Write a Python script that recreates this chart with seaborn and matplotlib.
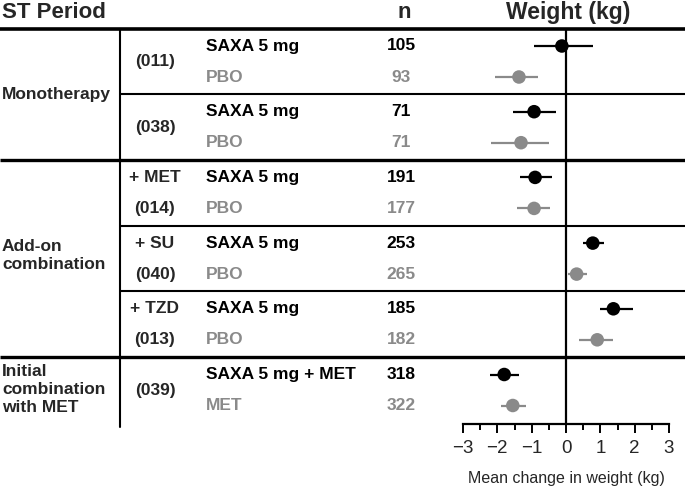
import numpy as np
import pandas as pd
import matplotlib
matplotlib.use("Agg")
import matplotlib.pyplot as plt
import seaborn as sns

# data
sections = ["Monotherapy", "Add-on\ncombination", "Initial\ncombination\nwith MET"]
studies = ["(011)", "(038)", "+ MET\n(014)", "+ SU\n(040)", "+ TZD\n(013)", "(039)"]
study_section = [0, 0, 1, 1, 1, 2]
arm_active = ["SAXA 5 mg", "SAXA 5 mg", "SAXA 5 mg", "SAXA 5 mg", "SAXA 5 mg", "SAXA 5 mg + MET"]
arm_control = ["PBO", "PBO", "PBO", "PBO", "PBO", "MET"]
n_active = [105, 71, 191, 253, 185, 318]
n_control = [93, 71, 177, 265, 182, 322]
mean_active = [-0.12, -0.93, -0.9, 0.78, 1.38, -1.8]
lo_active = [-0.92, -1.53, -1.34, 0.5, 0.99, -2.21]
hi_active = [0.8, -0.29, -0.4, 1.1, 1.94, -1.38]
mean_control = [-1.37, -1.31, -0.93, 0.31, 0.91, -1.55]
lo_control = [-2.06, -2.17, -1.44, 0.05, 0.39, -1.89]
hi_control = [-0.81, -0.5, -0.48, 0.6, 1.36, -1.17]

BLACK = "#000000"
GREY = "#8a8a8a"
W, H = 685, 488
FS = 12.5
HFS = 16

sns.set_style("white")
plt.rcParams["font.family"] = ["Liberation Sans", "DejaVu Sans"]

# row layout (pixel units, top = 0)
top = 29
row_gap = 31
study_gap = 65.7
ys_active, ys_control, study_mid = [], [], []
for i in range(len(studies)):
    y = top + 17 + i * study_gap
    ys_active.append(y)
    ys_control.append(y + row_gap)
    study_mid.append(y + row_gap / 2)

rows = []
for i in range(len(studies)):
    rows.append(dict(y=ys_active[i], m=mean_active[i], lo=lo_active[i], hi=hi_active[i], arm="active"))
    rows.append(dict(y=ys_control[i], m=mean_control[i], lo=lo_control[i], hi=hi_control[i], arm="control"))
df = pd.DataFrame(rows)

fig = plt.figure(figsize=(W / 100, H / 100), dpi=100)
bg = fig.add_axes([0, 0, 1, 1])
bg.set_xlim(0, W)
bg.set_ylim(H, 0)
bg.axis("off")

axis_y = 424
ax_l, ax_r = 463, 669
ax = fig.add_axes([ax_l / W, (H - axis_y) / H, (ax_r - ax_l) / W, (axis_y - top) / H])
ax.set_facecolor("none")

# header
bg.text(2, 13, "ST Period", fontsize=HFS, fontweight="bold", va="center")
bg.text(404, 13, "n", fontsize=HFS, fontweight="bold", va="center", ha="center")
bg.text(568, 13, "Weight (kg)", fontsize=HFS + 0.5, fontweight="bold", va="center", ha="center")
bg.plot([0, W], [top, top], color="black", lw=2.6, solid_capstyle="butt")

# section / study separators
for i in range(1, len(studies)):
    ysep = (ys_control[i - 1] + ys_active[i]) / 2
    if study_section[i] != study_section[i - 1]:
        bg.plot([0, W], [ysep, ysep], color="black", lw=2.4, solid_capstyle="butt")
    else:
        bg.plot([120, W], [ysep, ysep], color="black", lw=1.5, solid_capstyle="butt")
bg.plot([120, 120], [top, axis_y + 3], color="black", lw=1.5)

# section labels
for s, lab in enumerate(sections):
    idx = [i for i in range(len(studies)) if study_section[i] == s]
    ymid = (study_mid[idx[0]] + study_mid[idx[-1]]) / 2
    if s == 1:
        ymid -= 3
    bg.text(2, ymid, lab, fontsize=FS, fontweight="bold", va="center", ha="left", linespacing=1.25)

for i in range(len(studies)):
    parts = studies[i].split("\n")
    if len(parts) == 2:
        bg.text(155, ys_active[i], parts[0], fontsize=FS, fontweight="bold", va="center", ha="center")
        bg.text(155, ys_control[i], parts[1], fontsize=FS, fontweight="bold", va="center", ha="center")
    else:
        bg.text(155, study_mid[i], parts[0], fontsize=FS, fontweight="bold", va="center", ha="center")
    bg.text(206, ys_active[i], arm_active[i], fontsize=FS, fontweight="bold", va="center", color=BLACK)
    bg.text(206, ys_control[i], arm_control[i], fontsize=FS, fontweight="bold", va="center", color=GREY)
    bg.text(401, ys_active[i], str(n_active[i]), fontsize=FS, fontweight="bold", va="center", ha="center", color=BLACK)
    bg.text(401, ys_control[i], str(n_control[i]), fontsize=FS, fontweight="bold", va="center", ha="center", color=GREY)

# forest plot
palette = {"active": BLACK, "control": GREY}
for arm, d in df.groupby("arm"):
    ax.hlines(d["y"], d["lo"], d["hi"], color=palette[arm], lw=1.6, zorder=2)
sns.scatterplot(data=df, x="m", y="y", hue="arm", palette=palette, s=95,
                edgecolor="none", legend=False, ax=ax, zorder=3)
ax.axvline(0, color="black", lw=1.6, zorder=1)
ax.set_xlim(-3, 3)
ax.set_ylim(axis_y, top)
ax.set_yticks([])
ax.set_xticks(np.arange(-3, 4, 1))
ax.set_xticks(np.arange(-2.5, 3, 1), minor=True)
ax.set_xticklabels(["\u22123", "\u22122", "\u22121", "0", "1", "2", "3"])
ax.tick_params(axis="x", which="both", bottom=True, color="black")
ax.tick_params(axis="x", which="major", direction="out", length=6.5, width=1.4, labelsize=13.5, pad=5)
ax.tick_params(axis="x", which="minor", direction="out", length=4.5, width=1.4)
ax.set_xlabel("Mean change in weight (kg)", fontsize=11.5, labelpad=10)
ax.set_ylabel("")
for sp in ["top", "left", "right"]:
    ax.spines[sp].set_visible(False)
ax.spines["bottom"].set_linewidth(1.6)
ax.spines["bottom"].set_color("black")
ax.spines["bottom"].set_bounds(-3, 3)
ax.margins(x=0)

fig.savefig("out.png", dpi=100)
